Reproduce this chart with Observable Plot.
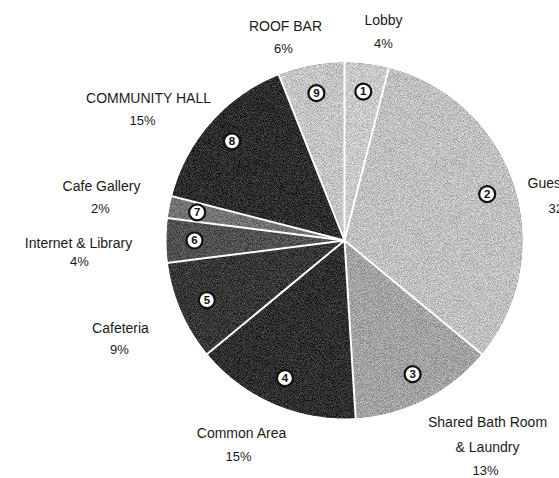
<!DOCTYPE html>
<html>
<head>
<meta charset="utf-8">
<script src="https://cdn.jsdelivr.net/npm/d3@7"></script>
<script src="https://cdn.jsdelivr.net/npm/@observablehq/plot@0.6"></script>
<style>
  html, body { margin: 0; padding: 0; background: #ffffff; }
  #chart svg { display: block; }
</style>
</head>
<body>
<div id="chart"></div>
<script>
// Space use by area, numbered clockwise from the top
const sliceNumbers = ["1", "2", "3", "4", "5", "6", "7", "8", "9"];
const areaNames = [
  "Lobby",
  "Guest Room",
  "Shared Bath Room\n& Laundry",
  "Common Area",
  "Cafeteria",
  "Internet & Library",
  "Cafe Gallery",
  "COMMUNITY HALL",
  "ROOF BAR"
];
const shares = [4, 32, 13, 15, 9, 4, 2, 15, 6];

// Grey shade of each slice
const shades = ["#c9c9c9", "#c0c0c0", "#a2a2a2", "#2e2e2e", "#363636", "#505050", "#727272", "#2c2c2c", "#c4c4c4"];

// Where each name / percentage sits around the pie (pixel frame of the svg)
const nameSpots = [
  {x: 383, y: 17, anchor: "middle"},
  {x: 527, y: 183, anchor: "start"},
  {x: 487, y: 431, anchor: "middle"},
  {x: 241, y: 430, anchor: "middle"},
  {x: 120, y: 325, anchor: "middle"},
  {x: 78, y: 240, anchor: "middle"},
  {x: 101, y: 183, anchor: "middle"},
  {x: 148, y: 95, anchor: "middle"},
  {x: 285, y: 23, anchor: "middle"}
];
const pctSpots = [
  {x: 383, y: 43, anchor: "middle"},
  {x: 548, y: 208, anchor: "start"},
  {x: 485, y: 470, anchor: "middle"},
  {x: 238, y: 456, anchor: "middle"},
  {x: 119, y: 349, anchor: "middle"},
  {x: 79, y: 261, anchor: "middle"},
  {x: 100, y: 208, anchor: "middle"},
  {x: 142, y: 120, anchor: "middle"},
  {x: 283, y: 48, anchor: "middle"}
];

const W = 559, H = 478;
const cx = 344, cy = 240, R = 178, badgeR = 150;

const arcs = d3.pie().sort(null).startAngle(0).endAngle(2 * Math.PI)(shares);
const at = (a, r) => ({x: cx + r * Math.sin(a), y: cy - r * Math.cos(a)});

// Outline of one slice: centre, then along its arc
function outline(a) {
  const n = Math.max(4, Math.ceil((a.endAngle - a.startAngle) / 0.01));
  const pts = [{x: cx, y: cy}];
  for (let k = 0; k <= n; ++k) {
    pts.push(at(a.startAngle + (a.endAngle - a.startAngle) * k / n, R));
  }
  return pts;
}

// Radial separators between slices
const seps = arcs.flatMap((a, i) => [
  {i, x: cx, y: cy},
  {i, ...at(a.startAngle, R + 1)}
]);

const badges = arcs.map((a, i) => ({num: sliceNumbers[i], ...at((a.startAngle + a.endAngle) / 2, badgeR)}));

const names = areaNames.map((t, i) => ({text: t, ...nameSpots[i]}));
const pcts = shares.map((v, i) => ({text: `${v}%`, ...pctSpots[i]}));

const font = "'Liberation Sans', Arial, sans-serif";
const labelStyle = {x: "x", y: "y", text: "text", fill: "#1a1a1a", fontFamily: font};
const mid = d => d.anchor === "middle";
const start = d => d.anchor === "start";

const plot = Plot.plot({
  width: W,
  height: H,
  margin: 0,
  x: {domain: [0, W], range: [0, W], axis: null},
  y: {domain: [0, H], range: [0, H], axis: null},
  marks: [
    ...arcs.map((a, i) => Plot.line(outline(a), {x: "x", y: "y", fill: shades[i], stroke: "none", curve: "linear-closed"})),
    Plot.line(seps, {x: "x", y: "y", z: "i", stroke: "#ffffff", strokeWidth: 2}),
    Plot.dot(badges, {x: "x", y: "y", r: 8, fill: "#ffffff", stroke: "#111111", strokeWidth: 2.2}),
    Plot.text(badges, {x: "x", y: "y", text: "num", fontSize: 11.5, fontWeight: "bold", fill: "#111111", fontFamily: font}),
    Plot.text(names.filter(mid), {...labelStyle, textAnchor: "middle", fontSize: 14, lineHeight: 1.75}),
    Plot.text(names.filter(start), {...labelStyle, textAnchor: "start", fontSize: 14}),
    Plot.text(pcts.filter(mid), {...labelStyle, textAnchor: "middle", fontSize: 13}),
    Plot.text(pcts.filter(start), {...labelStyle, textAnchor: "start", fontSize: 13})
  ]
});

// Print grain on the slice fills
const ns = "http://www.w3.org/2000/svg";
const defs = document.createElementNS(ns, "defs");
defs.innerHTML = `
  <filter id="grain" x="0" y="0" width="100%" height="100%" color-interpolation-filters="sRGB">
    <feTurbulence type="fractalNoise" baseFrequency="1.3" numOctaves="1" seed="7" result="noise"/>
    <feColorMatrix in="noise" type="matrix"
      values="1 0 0 0 0  1 0 0 0 0  1 0 0 0 0  0 0 0 0 1" result="grey"/>
    <feComposite in="SourceGraphic" in2="grey" operator="arithmetic" k1="0" k2="1" k3="0.65" k4="-0.325" result="mix"/>
    <feComposite in="mix" in2="SourceGraphic" operator="in"/>
  </filter>`;
plot.insertBefore(defs, plot.firstChild);
const lineGroups = plot.querySelectorAll('g[aria-label="line"]');
lineGroups.forEach((g, i) => { if (i < arcs.length) g.setAttribute("filter", "url(#grain)"); });

document.getElementById("chart").appendChild(plot);
</script>
</body>
</html>
